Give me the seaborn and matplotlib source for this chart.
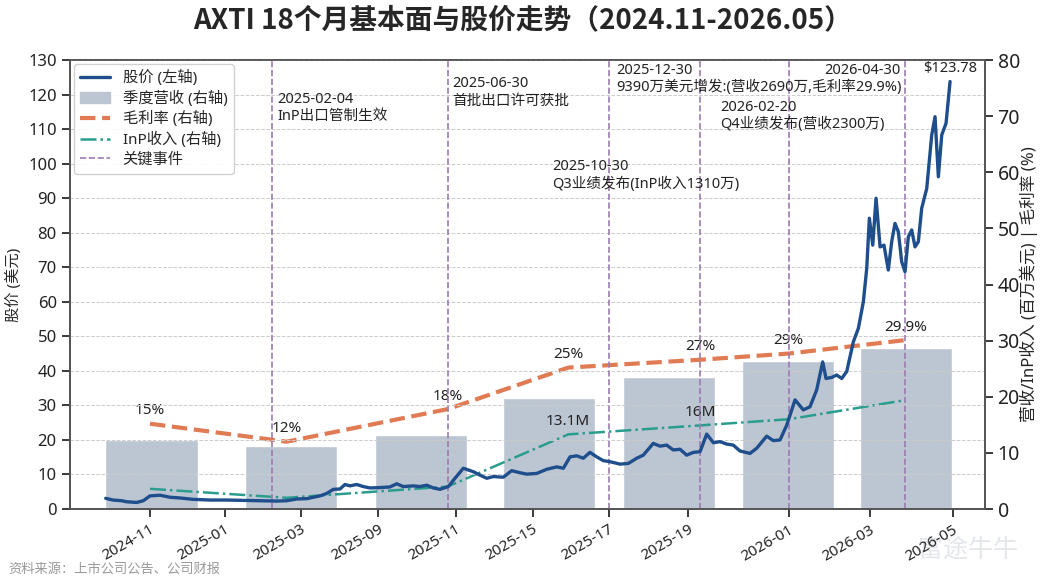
import numpy as np
import pandas as pd
import matplotlib
matplotlib.use("Agg")
import matplotlib.pyplot as plt
import seaborn as sns
from matplotlib.patches import Patch
from matplotlib.lines import Line2D

sns.set_theme(style="ticks")
plt.rcParams['font.family'] = ['Noto Sans', 'Noto Sans CJK SC', 'DejaVu Sans']
plt.rcParams['axes.unicode_minus'] = False

# ---- data (x = week-like index used by the original axis) ----
price_x = [-5.75, -4.81, -3.68, -3.03, -1.73, -0.87, 0.0, 1.30, 2.60, 3.90, 5.58, 7.79, 9.96,
           12.08, 14.29, 16.45, 17.75, 19.05, 20.35, 22.08, 22.95, 23.81, 24.68, 25.32, 25.97,
           26.84, 27.70, 28.57, 29.87, 31.17, 32.04, 32.90, 34.19, 35.06, 35.94, 36.79, 37.66,
           38.74, 39.61, 40.69, 41.99, 42.86, 43.73, 44.58, 45.88, 46.97, 48.05, 48.92, 50.22,
           51.52, 52.82, 53.68, 54.55, 55.42, 56.27, 57.14, 58.01, 58.87, 59.74, 61.04, 62.12,
           63.21, 64.06, 65.36, 66.23, 67.10, 67.96, 68.83, 69.70, 70.56, 71.43, 72.30, 73.16,
           74.03, 74.90, 75.75, 76.62, 77.92, 78.79, 80.09, 80.95, 81.82, 82.69, 83.77, 84.84,
           85.71, 86.58, 87.36, 87.79, 88.53, 89.18, 89.83, 90.48, 91.34, 91.99, 92.64, 93.08,
           93.42, 93.86, 94.29, 94.81, 95.32, 95.88, 96.32, 96.75, 97.18, 97.62, 98.05, 98.48,
           98.92, 99.35, 99.78, 100.22, 100.87, 101.52, 101.95, 102.38, 102.82, 103.38, 103.90]
price_y = [3.1, 2.6, 2.4, 2.1, 1.9, 2.4, 3.8, 4.0, 3.4, 3.2, 2.8, 2.6, 2.6,
           2.5, 2.4, 2.3, 2.4, 2.9, 3.0, 3.8, 4.5, 5.7, 5.8, 7.1, 6.7,
           7.1, 6.5, 6.1, 6.2, 6.4, 7.3, 6.5, 6.7, 6.5, 6.9, 6.1, 5.7,
           6.5, 8.9, 11.8, 10.8, 9.8, 8.9, 9.4, 9.2, 11.1, 10.5, 10.1, 10.3,
           11.5, 12.2, 11.8, 15.1, 15.4, 14.7, 16.4, 15.1, 14.0, 13.7, 13.0, 13.2,
           14.7, 15.6, 19.0, 18.2, 18.5, 17.1, 17.3, 15.6, 16.4, 16.6, 21.7, 19.2,
           19.5, 18.8, 18.5, 16.8, 16.1, 17.6, 21.1, 19.8, 20.0, 24.3, 31.6, 28.7,
           29.6, 34.5, 42.6, 37.8, 38.1, 38.8, 37.8, 39.8, 48.4, 52.3, 60.0, 69.7,
           84.2, 76.4, 90.0, 75.9, 76.4, 69.2, 77.4, 82.7, 80.3, 71.6, 68.7, 78.8,
           80.8, 75.9, 77.4, 87.1, 92.8, 108.3, 113.6, 96.2, 108.3, 111.7, 123.78]

rev_x = [0.19, 18.31, 35.19, 51.82, 67.40, 82.86, 98.18]
rev_y = [12.3, 11.2, 13.2, 19.8, 23.6, 26.3, 28.7]

fund_x = [0.0, 17.75, 38.66, 54.32, 71.47, 82.95, 98.09]
margin_y = [15.2, 12.0, 17.8, 25.2, 26.6, 27.7, 30.1]
margin_labels = ["15%", "12%", "18%", "25%", "27%", "29%", "29.9%"]
inp_y = [3.6, 2.0, 4.0, 13.3, 14.9, 16.0, 19.4]
inp_labels = {3: "13.1M", 4: "16M"}

event_x = [15.81, 38.66, 59.56, 71.47, 82.95, 98.09]
# each event label as separate lines
event_text = [["2025-02-04", "InP出口管制生效"],
              ["2025-06-30", "首批出口许可获批"],
              ["2025-10-30", "Q3业绩发布(InP收入1310万)"],
              ["2025-12-30", "9390万美元增发:(营收2690万,毛利率29.9%)"],
              ["2026-02-20", "Q4业绩发布(营收2300万)"],
              ["2026-04-30"]]
event_text_x = [16.5, 39.3, 52.2, 60.6, 74.0, 97.5]
event_text_y = [118.5, 123.1, 99.1, 127.1, 116.3, 127.1]
event_ha = ["left", "left", "left", "left", "left", "right"]

tick_pos = [0, 9.74, 19.57, 29.61, 39.70, 49.74, 59.61, 69.87, 82.99, 93.51, 104.25]
tick_lab = ['2024-11', '2025-01', '2025-03', '2025-09', '2025-11', '2025-15',
            '2025-17', '2025-19', '2026-01', '2026-03', '2026-05']

c_price = '#1f4e8c'
c_bar = '#bcc5d2'
c_margin = '#e07b54'
c_inp = '#2a9d8f'
c_event = '#9c7bb0'

fig = plt.figure(figsize=(10.46, 5.84), dpi=100)
ax1 = fig.add_axes([0.0669, 0.1284, 0.8748, 0.7688])
ax2 = ax1.twinx()
ax1.set_zorder(ax2.get_zorder() + 1)
ax1.patch.set_visible(False)

# right axis: revenue bars, margin, InP
ax2.bar(rev_x, rev_y, width=12.0, color=c_bar, zorder=1, label='季度营收 (右轴)')
sns.lineplot(x=fund_x, y=margin_y, ax=ax2, color=c_margin, lw=3, linestyle='--',
             label='毛利率 (右轴)', sort=False)
sns.lineplot(x=fund_x, y=inp_y, ax=ax2, color=c_inp, lw=1.8, linestyle='-.',
             label='InP收入 (右轴)', sort=False)
for i, (x, y) in enumerate(zip(fund_x, margin_y)):
    ax2.annotate(margin_labels[i], (x, y), xytext=(0, 4), textcoords='offset points',
                 ha='center', va='bottom', fontsize=11, color='#222222')
for i, lab in inp_labels.items():
    ax2.annotate(lab, (fund_x[i], inp_y[i]), xytext=(0, 4), textcoords='offset points',
                 ha='center', va='bottom', fontsize=11, color='#222222')
if ax2.get_legend() is not None:
    ax2.get_legend().remove()

# left axis: price + events
sns.lineplot(x=price_x, y=price_y, ax=ax1, color=c_price, lw=2.4, label='股价 (左轴)', sort=False)
for i, ex in enumerate(event_x):
    ax1.axvline(ex, color=c_event, ls='--', lw=1.2, zorder=1)
    for j, line in enumerate(event_text[i]):
        ax1.annotate(line, (event_text_x[i], event_text_y[i]), xytext=(0, -12.3 * j),
                     textcoords='offset points', ha=event_ha[i], va='center',
                     fontsize=10.5, color='#222222')
ax1.annotate('$%.2f' % price_y[-1], (price_x[-1], price_y[-1]), xytext=(0, 4),
             textcoords='offset points', ha='center', va='bottom', fontsize=10.5, color='#222222')

ax1.set_xlim(-10.39, 108.44)
ax1.set_ylim(0, 130)
ax1.set_yticks(np.arange(0, 131, 10))
ax2.set_ylim(0, 80)
ax2.set_yticks(np.arange(0, 81, 10))
ax1.set_xticks(tick_pos)
ax1.set_xticklabels(tick_lab)
plt.setp(ax1.get_xticklabels(), rotation=30, ha='right', rotation_mode='anchor')
ax1.tick_params(axis='x', labelsize=11, colors='#222222')
ax1.tick_params(axis='y', labelsize=12, colors='#222222')
ax2.tick_params(axis='y', labelsize=14, colors='#222222', pad=3)
ax1.grid(axis='y', ls='--', color='#cccccc', lw=0.7)
ax1.set_ylabel('股价 (美元)', fontsize=11)
ax2.set_ylabel('营收/InP收入 (百万美元) | 毛利率 (%)', fontsize=12, labelpad=0)
for ax in (ax1, ax2):
    for s in ax.spines.values():
        s.set_color('#555555')

handles = [Line2D([0], [0], color=c_price, lw=2.4),
           Patch(color=c_bar),
           Line2D([0], [0], color=c_margin, lw=3, ls='--'),
           Line2D([0], [0], color=c_inp, lw=1.8, ls='-.'),
           Line2D([0], [0], color=c_event, lw=1.2, ls='--')]
labels = ['股价 (左轴)', '季度营收 (右轴)', '毛利率 (右轴)', 'InP收入 (右轴)', '关键事件']
ax1.legend(handles, labels, loc='upper left', fontsize=11, frameon=True, framealpha=0.9,
           labelspacing=0.3, borderaxespad=0.25)

fig.suptitle('AXTI 18个月基本面与股价走势（2024.11-2026.05）', fontsize=20,
             fontweight='bold', y=0.99, family=['Noto Sans CJK SC', 'DejaVu Sans'])
fig.text(0.008, 0.02, '资料来源：上市公司公告、公司财报', fontsize=9.5, color='#999999')
fig.text(0.925, 0.058, '富途牛牛', fontsize=18, color='#e3e6ea', ha='center', va='center',
         zorder=-1)

fig.savefig('out.png', dpi=100)
